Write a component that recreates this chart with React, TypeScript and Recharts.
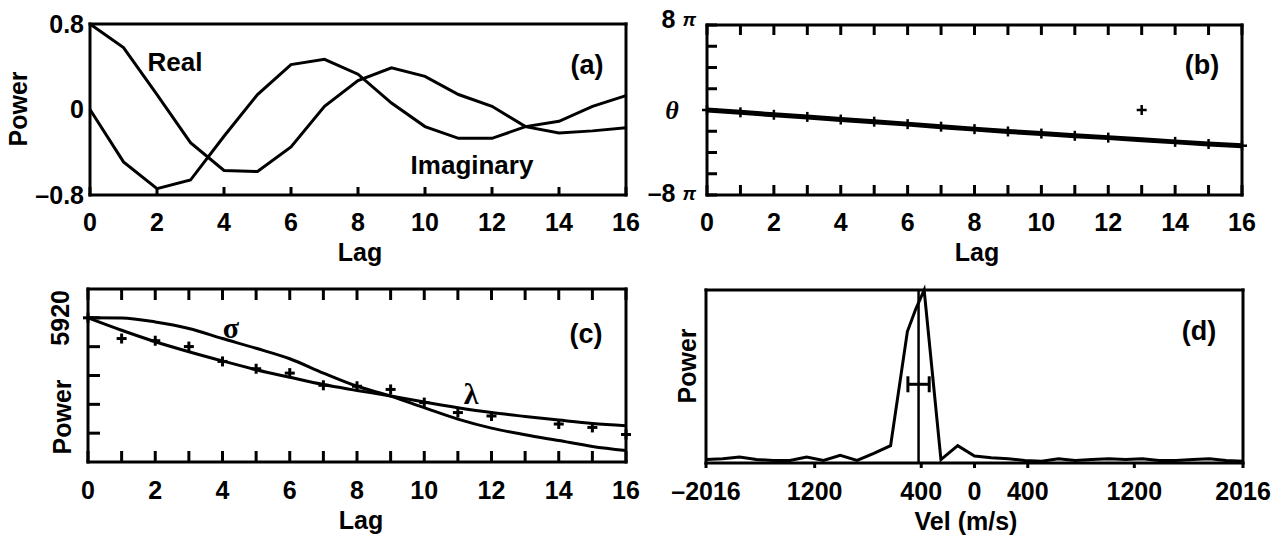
import React from 'react';
import { ComposedChart, Line, Scatter, XAxis, YAxis, ReferenceLine, ErrorBar } from 'recharts';

const SANS = '"Liberation Sans", Arial, Helvetica, sans-serif';
const SERIF = '"Liberation Serif", "DejaVu Serif", serif';

// (a) real / imaginary parts of the autocorrelation
const lags = [0, 1, 2, 3, 4, 5, 6, 7, 8, 9, 10, 11, 12, 13, 14, 15, 16];
const realPart = [0.8, 0.58, 0.14, -0.31, -0.57, -0.58, -0.35, 0.03, 0.27, 0.39, 0.31, 0.14, 0.03, -0.16, -0.22, -0.2, -0.17];
const imagPart = [0.0, -0.49, -0.74, -0.66, -0.25, 0.14, 0.42, 0.47, 0.33, 0.06, -0.16, -0.27, -0.27, -0.16, -0.11, 0.03, 0.13];

// (b) phase, in units of pi
const phaseMeasured = [0, -0.22, -0.45, -0.65, -0.9, -1.1, -1.33, -1.57, -1.8, -2.02, -2.22, -2.43, -2.6, 0.0, -3.0, -3.2, -3.36];
const phaseFit = [0, -0.22, -0.45, -0.65, -0.9, -1.1, -1.33, -1.57, -1.8, -2.02, -2.22, -2.43, -2.6, -2.8, -3.0, -3.2, -3.36];

// (c) lag power with sigma / lambda fits
const powerMeasured = [5920, 5070, 4980, 4740, 4130, 3830, 3650, 3150, 3110, 2980, 2440, 2030, 1890, null, 1560, 1420, 1130];
const sigmaFit = [5920, 5910, 5750, 5480, 5070, 4670, 4240, 3650, 3110, 2710, 2230, 1760, 1390, 1120, 880, 640, 470];
const lambdaFit = [5920, 5410, 4940, 4530, 4150, 3790, 3480, 3180, 2940, 2710, 2460, 2230, 2030, 1870, 1720, 1580, 1490];

// (d) Doppler spectrum
const velocityBins = [-2016, -1890, -1764, -1638, -1512, -1386, -1260, -1134, -1008, -882, -756, -630, -504, -441, -378, -252, -126, 0, 126, 252, 378, 504, 630, 756, 882, 1008, 1134, 1260, 1386, 1512, 1638, 1764, 1890, 2016];
const spectrumPower = [0.02, 0.025, 0.035, 0.02, 0.015, 0.015, 0.035, 0.015, 0.045, 0.015, 0.055, 0.1, 0.76, 0.89, 1.0, 0.02, 0.1, 0.04, 0.03, 0.025, 0.015, 0.01, 0.025, 0.015, 0.02, 0.025, 0.02, 0.025, 0.015, 0.015, 0.02, 0.025, 0.015, 0.01];
const fitVelocity = -420;
const fitVelocityErr = 80;
const errorBarLevel = 0.455;

const evenLagTicks = [0, 2, 4, 6, 8, 10, 12, 14, 16];
const phaseTicks = [-8, -6, -4, -2, 0, 2, 4, 6, 8];
const powerTicks = [1184, 2368, 3552, 4736, 5920];
const velTicks = [-2016, -1200, -400, 0, 400, 1200, 2016];
const velTickLabels = ['–2016', '1200', '400', '0', '400', '1200', '2016'];

const acfData = lags.map((lag, i) => ({ lag, real: realPart[i], imag: imagPart[i] }));
const phaseData = lags.map((lag, i) => ({ lag, meas: phaseMeasured[i], fit: phaseFit[i] }));
const powerData = lags.map((lag, i) => ({ lag, meas: powerMeasured[i], sigma: sigmaFit[i], lambda: lambdaFit[i] }));
const specData = velocityBins.map((vel, i) => ({ vel, p: spectrumPower[i] }));
const fitPoint = [{ vel: fitVelocity, p: errorBarLevel, err: fitVelocityErr }];

const frame: any = { stroke: '#000', strokeWidth: 3, strokeLinecap: 'square' };
const tickLn: any = { stroke: '#000', strokeWidth: 3 };
const tickFont: any = { fontSize: 25, fontWeight: 700, fill: '#000', fontFamily: SANS };

const Cross = (size: number, w: number) => (props: any) => {
  const { cx, cy } = props;
  if (!Number.isFinite(cx) || !Number.isFinite(cy)) return <g />;
  return (
    <g>
      <line x1={cx - size} x2={cx + size} y1={cy} y2={cy} stroke="#000" strokeWidth={w} />
      <line x1={cx} x2={cx} y1={cy - size} y2={cy + size} stroke="#000" strokeWidth={w} />
    </g>
  );
};

// x-axis tick: own tick mark (positive len = into the plot) plus optional label
const xTick = (side: 'bottom' | 'top', len: number, gap: number, fmt?: (v: number) => string) => (props: any) => {
  const { x, y, payload } = props;
  const axisY = side === 'bottom' ? y - gap : y;
  const endY = side === 'bottom' ? axisY - len : axisY + len;
  const label = fmt ? fmt(payload.value) : '';
  return (
    <g>
      <line x1={x} x2={x} y1={axisY} y2={endY} stroke="#000" strokeWidth={3} />
      {label !== '' && (
        <text x={x} y={y} dy="0.71em" textAnchor="middle" {...tickFont}>
          {label}
        </text>
      )}
    </g>
  );
};

// right y-axis tick mark pointing into the plot (tickSize 0, tickMargin 0)
const rightTick = (len: number) => (props: any) => {
  const { x, y } = props;
  return <line x1={x} x2={x - len} y1={y} y2={y} stroke="#000" strokeWidth={3} />;
};

const PhaseTick = (props: any) => {
  const { x, y, payload } = props;
  const v = payload.value;
  if (v === 0) {
    return (
      <text x={x - 24} y={y} textAnchor="middle" dominantBaseline="central" fontSize={26} fontWeight={700} fontStyle="italic" fontFamily={SERIF} fill="#000">
        θ
      </text>
    );
  }
  if (v !== 8 && v !== -8) return <g />;
  return (
    <text x={x} y={v > 0 ? y - 6 : y - 2} textAnchor="end" dominantBaseline="central" fontSize={25} fontWeight={700} fontFamily={SANS} fill="#000">
      {v > 0 ? '8' : '–8'}
      <tspan dx={7} fontSize={19} fontStyle="italic">π</tspan>
    </text>
  );
};

const PowerTick = (props: any) => {
  const { x, y, payload } = props;
  if (payload.value !== 5920) return <g />;
  return (
    <text x={x} y={y} transform={`rotate(-90 ${x} ${y})`} textAnchor="middle" dominantBaseline="central" fontSize={25} fontWeight={700} fontFamily={SANS} fill="#000">
      5920
    </text>
  );
};

const fmtA = (v: number) => (v === 0 ? '0' : v > 0 ? '0.8' : '–0.8');
const fmtAll = (v: number) => String(v);
const fmtLag = (v: number) => (v % 2 === 0 ? String(v) : '');
const fmtVel = (v: number) => velTickLabels[velTicks.indexOf(v)] ?? '';

const T = (p: { x: number; y: number; s?: number; rot?: boolean; serif?: boolean; children: React.ReactNode }) => (
  <text
    x={p.x}
    y={p.y}
    textAnchor="middle"
    dominantBaseline="central"
    transform={p.rot ? `rotate(-90 ${p.x} ${p.y})` : undefined}
    fontSize={p.s ?? 25}
    fontWeight={700}
    fontFamily={p.serif ? SERIF : SANS}
    fill="#000"
  >
    {p.children}
  </text>
);

export default function App() {
  return (
    <div style={{ position: 'absolute', left: 0, top: 0, width: 1287, height: 537, background: '#fff', overflow: 'hidden' }}>
      {/* (a) */}
      <div style={{ position: 'absolute', left: 0, top: 0 }}>
        <ComposedChart width={640} height={270} data={acfData} margin={{ top: 14, right: 4, bottom: 0, left: 0 }}>
          <XAxis dataKey="lag" type="number" domain={[0, 16]} ticks={evenLagTicks} interval={0} height={75} axisLine={frame} tickLine={false} tickSize={0} tickMargin={18} tick={xTick('bottom', 8, 18, fmtAll)} />
          <XAxis xAxisId="top" orientation="top" type="number" domain={[0, 16]} height={10} axisLine={frame} tick={false} tickLine={false} />
          <YAxis type="number" domain={[-0.8, 0.8]} ticks={[-0.8, 0, 0.8]} interval={0} width={90} axisLine={frame} tickLine={false} tickSize={0} tickMargin={6} tick={tickFont} tickFormatter={fmtA} />
          <YAxis yAxisId="right" orientation="right" type="number" domain={[-0.8, 0.8]} width={10} axisLine={frame} tick={false} tickLine={false} />
          <Line dataKey="real" type="linear" stroke="#000" strokeWidth={3} dot={false} isAnimationActive={false} />
          <Line dataKey="imag" type="linear" stroke="#000" strokeWidth={3} dot={false} isAnimationActive={false} />
        </ComposedChart>
      </div>

      {/* (b) */}
      <div style={{ position: 'absolute', left: 640, top: 0 }}>
        <ComposedChart width={647} height={270} data={phaseData} margin={{ top: 15, right: 35, bottom: 0, left: 0 }}>
          <XAxis dataKey="lag" type="number" domain={[0, 16]} ticks={lags} interval={0} height={75} axisLine={frame} tickLine={false} tickSize={0} tickMargin={18} tick={xTick('bottom', 10, 18, fmtLag)} />
          <XAxis xAxisId="top" orientation="top" type="number" domain={[0, 16]} ticks={lags} interval={0} height={10} axisLine={frame} tickLine={false} tickSize={0} tickMargin={0} tick={xTick('top', 10, 0)} />
          <YAxis type="number" domain={[-8, 8]} ticks={phaseTicks} interval={0} width={67} axisLine={frame} tickLine={tickLn} tickSize={-10} tickMargin={21} tick={PhaseTick} />
          <YAxis yAxisId="right" orientation="right" type="number" domain={[-8, 8]} ticks={phaseTicks} interval={0} width={10} axisLine={frame} tickLine={false} tickSize={0} tickMargin={0} tick={rightTick(10)} />
          <Line dataKey="fit" type="linear" stroke="#000" strokeWidth={5} dot={false} isAnimationActive={false} />
          <Scatter dataKey="meas" shape={Cross(5, 2.5)} isAnimationActive={false} />
        </ComposedChart>
      </div>

      {/* (c) */}
      <div style={{ position: 'absolute', left: 0, top: 270 }}>
        <ComposedChart width={640} height={267} data={powerData} margin={{ top: 9, right: 4, bottom: 0, left: 0 }}>
          <XAxis dataKey="lag" type="number" domain={[0, 16]} ticks={lags} interval={0} height={75} axisLine={frame} tickLine={false} tickSize={0} tickMargin={19} tick={xTick('bottom', 11, 19, fmtLag)} />
          <XAxis xAxisId="top" orientation="top" type="number" domain={[0, 16]} ticks={lags} interval={0} height={10} axisLine={frame} tickLine={false} tickSize={0} tickMargin={0} tick={xTick('top', 11, 0)} />
          <YAxis type="number" domain={[0, 7104]} ticks={powerTicks} interval={0} width={88} axisLine={frame} tickLine={tickLn} tickSize={-12} tickMargin={40} tick={PowerTick} />
          <YAxis yAxisId="right" orientation="right" type="number" domain={[0, 7104]} ticks={powerTicks} interval={0} width={10} axisLine={frame} tickLine={false} tickSize={0} tickMargin={0} tick={rightTick(12)} />
          <Line dataKey="sigma" type="monotone" stroke="#000" strokeWidth={3} dot={false} isAnimationActive={false} />
          <Line dataKey="lambda" type="monotone" stroke="#000" strokeWidth={3} dot={false} isAnimationActive={false} />
          <Scatter dataKey="meas" shape={Cross(5, 3)} isAnimationActive={false} />
        </ComposedChart>
      </div>

      {/* (d) */}
      <div style={{ position: 'absolute', left: 640, top: 270 }}>
        <ComposedChart width={647} height={267} data={specData} margin={{ top: 10, right: 34, bottom: 0, left: 0 }}>
          <XAxis dataKey="vel" type="number" domain={[-2016, 2016]} ticks={velTicks} interval={0} height={74} axisLine={frame} tickLine={false} tickSize={0} tickMargin={19} tick={xTick('bottom', -5, 19, fmtVel)} />
          <XAxis xAxisId="top" orientation="top" type="number" domain={[-2016, 2016]} height={10} axisLine={frame} tick={false} tickLine={false} />
          <YAxis type="number" domain={[0, 1]} width={66} axisLine={frame} tick={false} tickLine={false} />
          <YAxis yAxisId="right" orientation="right" type="number" domain={[0, 1]} width={10} axisLine={frame} tick={false} tickLine={false} />
          <Line dataKey="p" type="linear" stroke="#000" strokeWidth={3} dot={false} isAnimationActive={false} />
          <ReferenceLine x={fitVelocity} stroke="#000" strokeWidth={2.5} />
          <Scatter data={fitPoint} dataKey="p" shape={() => <g />} isAnimationActive={false}>
            <ErrorBar dataKey="err" direction="x" width={8} stroke="#000" strokeWidth={3} />
          </Scatter>
        </ComposedChart>
      </div>

      <svg width={1287} height={537} style={{ position: 'absolute', left: 0, top: 0, pointerEvents: 'none' }}>
        <T x={18} y={109} rot>Power</T>
        <T x={360} y={252}>Lag</T>
        <T x={175} y={62} s={26}>Real</T>
        <T x={472} y={165} s={26}>Imaginary</T>
        <T x={587} y={65} s={27}>(a)</T>

        <T x={977} y={252}>Lag</T>
        <T x={1202} y={65} s={27}>(b)</T>

        <T x={62} y={417} rot>Power</T>
        <T x={361} y={520}>Lag</T>
        <T x={231} y={327} s={30} serif>σ</T>
        <T x={471} y={393} s={30} serif>λ</T>
        <T x={586} y={334} s={27}>(c)</T>

        <T x={687} y={366} rot>Power</T>
        <T x={966} y={521}>Vel (m/s)</T>
        <T x={1199} y={331} s={27}>(d)</T>
      </svg>
    </div>
  );
}
